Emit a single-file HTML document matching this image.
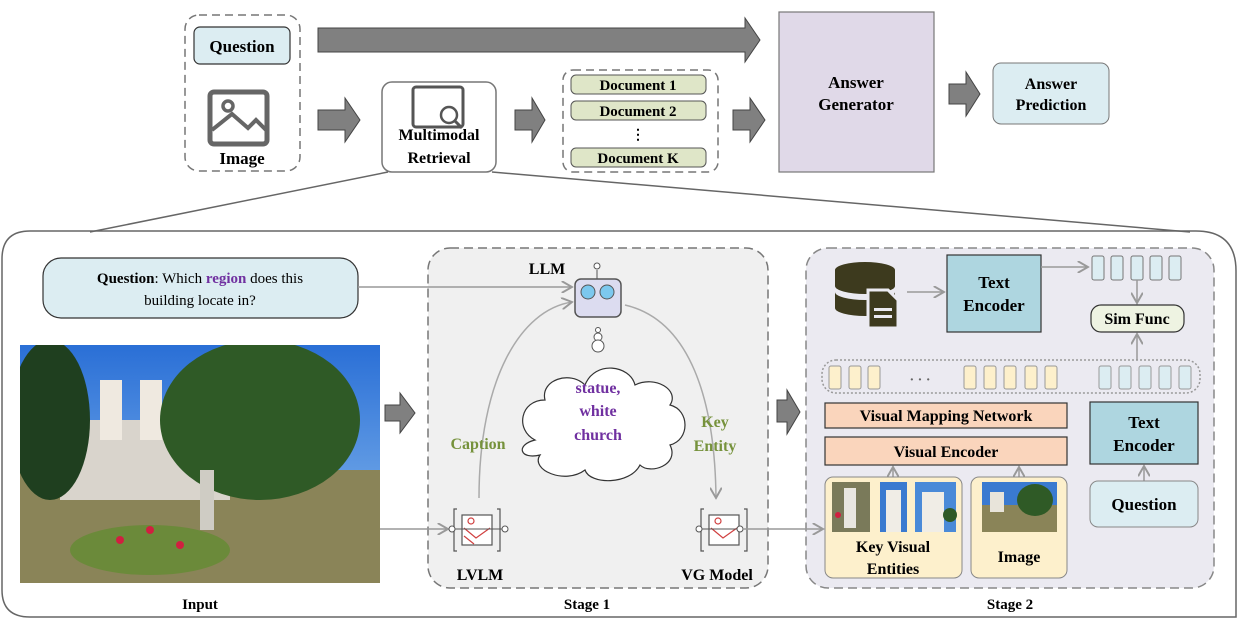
<!DOCTYPE html>
<html><head><style>
body{margin:0;background:#fff;}
svg{display:block;font-family:"Liberation Serif",serif;font-weight:bold;}
</style></head><body>
<svg width="1239" height="622" viewBox="0 0 1239 622" xmlns="http://www.w3.org/2000/svg">
<defs>
<marker id="ah" markerWidth="8" markerHeight="8" refX="7" refY="4" orient="auto"><path d="M0,0 L7,4 L0,8" fill="none" stroke="#999" stroke-width="1.3"/></marker>
<linearGradient id="sky" x1="0" y1="0" x2="0" y2="1"><stop offset="0" stop-color="#2a6fd6"/><stop offset="1" stop-color="#8fc0f0"/></linearGradient>
<clipPath id="pc"><rect x="20" y="345" width="360" height="238"/></clipPath>
</defs>
<!-- top -->
<rect x="185" y="15" width="115" height="156" rx="14" fill="none" stroke="#777" stroke-width="1.5" stroke-dasharray="8,5"/>
<rect x="194" y="27" width="96" height="37" rx="6" fill="#dcedf2" stroke="#333" stroke-width="1.2"/>
<text x="242" y="52" font-size="17" text-anchor="middle">Question</text>
<rect x="210" y="92" width="57" height="52" rx="4" fill="none" stroke="#666" stroke-width="5"/>
<circle cx="228" cy="106" r="5" fill="none" stroke="#666" stroke-width="3.5"/>
<path d="M212,130 L232,114 L248,128 L256,120 L266,130" fill="none" stroke="#666" stroke-width="4"/>
<text x="242" y="164" font-size="17" text-anchor="middle">Image</text>
<path d="M318,28 H745 V18 L760,40 L745,62 V52 H318 Z" fill="#808080" stroke="#444"/>
<path d="M318,110 H345 V98 L360,120 L345,142 V130 H318 Z" fill="#808080" stroke="#444"/>
<rect x="382" y="82" width="114" height="90" rx="10" fill="#fff" stroke="#777" stroke-width="1.5"/>
<rect x="413" y="87" width="50" height="40" rx="3" fill="none" stroke="#555" stroke-width="3"/>
<circle cx="449" cy="115" r="8" fill="#fff" stroke="#555" stroke-width="2.5"/>
<line x1="455" y1="121" x2="462" y2="128" stroke="#555" stroke-width="3"/>
<text x="439" y="140" font-size="16" text-anchor="middle">Multimodal</text>
<text x="439" y="163" font-size="16" text-anchor="middle">Retrieval</text>
<path d="M515,110 H532 V98 L545,120 L532,142 V130 H515 Z" fill="#808080" stroke="#444"/>
<rect x="563" y="70" width="155" height="102" rx="10" fill="none" stroke="#777" stroke-width="1.5" stroke-dasharray="8,5"/>
<rect x="571" y="75" width="135" height="19" rx="5" fill="#dfe6c8" stroke="#555"/><text x="638" y="90" font-size="15" text-anchor="middle">Document 1</text>
<rect x="571" y="101" width="135" height="19" rx="5" fill="#dfe6c8" stroke="#555"/><text x="638" y="116" font-size="15" text-anchor="middle">Document 2</text>
<text x="638" y="139" font-size="14" text-anchor="middle">⋮</text>
<rect x="571" y="148" width="135" height="19" rx="5" fill="#dfe6c8" stroke="#555"/><text x="638" y="163" font-size="15" text-anchor="middle">Document K</text>
<path d="M733,110 H750 V98 L765,120 L750,142 V130 H733 Z" fill="#808080" stroke="#444"/>
<rect x="779" y="12" width="155" height="160" fill="#e0d9e8" stroke="#777" stroke-width="1.2"/>
<text x="856" y="88" font-size="17" text-anchor="middle">Answer</text>
<text x="856" y="110" font-size="17" text-anchor="middle">Generator</text>
<path d="M949,84 H966 V72 L980,94 L966,116 V104 H949 Z" fill="#808080" stroke="#444"/>
<rect x="993" y="63" width="116" height="61" rx="8" fill="#dcedf2" stroke="#777"/>
<text x="1051" y="89" font-size="16" text-anchor="middle">Answer</text>
<text x="1051" y="110" font-size="16" text-anchor="middle">Prediction</text>
<!-- zoom lines -->
<line x1="388" y1="172" x2="90" y2="232" stroke="#666" stroke-width="1.5"/>
<line x1="492" y1="172" x2="1190" y2="232" stroke="#666" stroke-width="1.5"/>
<path d="M30,231 H1196 Q1236,231 1236,271 V617 H30 Q2,617 2,590 V259 Q2,231 30,231 Z" fill="none" stroke="#666" stroke-width="1.5"/>
<!-- input -->
<rect x="43" y="258" width="315" height="60" rx="18" fill="#dcedf2" stroke="#333" stroke-width="1.2"/>
<text x="200" y="283" font-size="15" text-anchor="middle">Question<tspan font-weight="normal">: Which </tspan><tspan fill="#7030a0">region</tspan><tspan font-weight="normal"> does this</tspan></text>
<text x="200" y="305" font-size="15" text-anchor="middle" font-weight="normal">building locate in?</text>
<g clip-path="url(#pc)">
<rect x="20" y="345" width="360" height="238" fill="url(#sky)"/>
<rect x="20" y="470" width="360" height="113" fill="#8a8458"/>
<rect x="60" y="420" width="170" height="80" fill="#d9d4cc"/>
<rect x="100" y="380" width="22" height="60" fill="#efe9e0"/>
<rect x="140" y="380" width="22" height="60" fill="#efe9e0"/>
<ellipse cx="50" cy="420" rx="40" ry="80" fill="#1f3f1f"/>
<ellipse cx="260" cy="420" rx="100" ry="80" fill="#2f5a26"/>
<ellipse cx="150" cy="550" rx="80" ry="25" fill="#6b8a3a"/>
<circle cx="120" cy="540" r="4" fill="#d02040"/><circle cx="150" cy="530" r="4" fill="#d02040"/><circle cx="180" cy="545" r="4" fill="#d02040"/>
<rect x="200" y="470" width="14" height="60" fill="#cfccc4"/>
</g>
<path d="M385,405 H400 V393 L415,413 L400,433 V421 H385 Z" fill="#808080" stroke="#444"/>
<text x="200" y="609" font-size="15" text-anchor="middle">Input</text>
<!-- stage 1 -->
<rect x="428" y="248" width="340" height="340" rx="22" fill="#f0f0f0" stroke="#777" stroke-width="1.5" stroke-dasharray="9,5"/>
<line x1="358" y1="287" x2="572" y2="287" stroke="#999" stroke-width="1.5" marker-end="url(#ah)"/>
<text x="547" y="274" font-size="16" text-anchor="middle">LLM</text>
<line x1="597" y1="270" x2="597" y2="280" stroke="#555"/><circle cx="597" cy="266" r="3" fill="#fff" stroke="#555"/>
<rect x="575" y="279" width="46" height="38" rx="6" fill="#dcdcf0" stroke="#555" stroke-width="1.5"/>
<circle cx="588" cy="292" r="7" fill="#7cc8ee" stroke="#555"/><circle cx="607" cy="292" r="7" fill="#7cc8ee" stroke="#555"/>
<circle cx="598" cy="330" r="2.5" fill="#fff" stroke="#555"/><circle cx="598" cy="337" r="4" fill="#fff" stroke="#555"/><circle cx="598" cy="346" r="6" fill="#fff" stroke="#555"/>
<path d="M479,498 C479,380 520,310 572,302" fill="none" stroke="#aaa" stroke-width="1.5" marker-end="url(#ah)"/>
<path d="M625,305 C690,320 715,400 716,498" fill="none" stroke="#aaa" stroke-width="1.5" marker-end="url(#ah)"/>
<path d="M535,440 C515,430 520,400 545,400 C540,380 570,370 585,385 C595,360 630,365 635,385 C655,375 680,390 670,405 C690,410 690,440 670,445 C680,465 650,475 640,465 C630,485 590,485 585,470 C565,485 530,470 540,455 C520,460 515,445 535,440 Z" fill="#fff" stroke="#333" stroke-width="1.2"/>
<text x="598" y="393" font-size="16" fill="#7030a0" text-anchor="middle">statue,</text>
<text x="598" y="416" font-size="16" fill="#7030a0" text-anchor="middle">white</text>
<text x="598" y="440" font-size="16" fill="#7030a0" text-anchor="middle">church</text>
<text x="478" y="449" font-size="16" fill="#76923c" text-anchor="middle">Caption</text>
<text x="715" y="427" font-size="16" fill="#76923c" text-anchor="middle">Key</text>
<text x="715" y="451" font-size="16" fill="#76923c" text-anchor="middle">Entity</text>
<g stroke="#555" fill="none" stroke-width="1.2">
<rect x="462" y="515" width="30" height="30" fill="#fff"/><path d="M464,528 L476,538 L490,528" stroke="#d04040"/><path d="M464,536 L474,544" stroke="#d04040"/><circle cx="471" cy="521" r="3" stroke="#d04040"/>
<path d="M457,509 h-3 v42 h3 M497,509 h3 v42 h-3"/>
<rect x="709" y="515" width="30" height="30" fill="#fff"/><path d="M711,528 L723,538 L737,528" stroke="#d04040"/><circle cx="718" cy="521" r="3" stroke="#d04040"/>
<path d="M704,509 h-3 v42 h3 M744,509 h3 v42 h-3"/>
</g>
<line x1="380" y1="529" x2="448" y2="529" stroke="#999" stroke-width="1.5" marker-end="url(#ah)"/>
<line x1="452" y1="529" x2="505" y2="529" stroke="#555"/><circle cx="452" cy="529" r="3" fill="#fff" stroke="#555"/><circle cx="505" cy="529" r="3" fill="#fff" stroke="#555"/>
<line x1="699" y1="529" x2="740" y2="529" stroke="#555"/><circle cx="699" cy="529" r="3" fill="#fff" stroke="#555"/><circle cx="740" cy="529" r="3" fill="#fff" stroke="#555"/>
<text x="480" y="580" font-size="16" text-anchor="middle">LVLM</text>
<text x="717" y="580" font-size="16" text-anchor="middle">VG Model</text>
<text x="587" y="609" font-size="15" text-anchor="middle">Stage 1</text>
<path d="M777,400 H787 V390 L800,412 L787,434 V422 H777 Z" fill="#808080" stroke="#444"/>
<!-- stage 2 -->
<rect x="806" y="248" width="408" height="340" rx="22" fill="#ebeaf1" stroke="#888" stroke-width="1.5" stroke-dasharray="9,5"/>
<line x1="743" y1="529" x2="823" y2="529" stroke="#999" stroke-width="1.5" marker-end="url(#ah)"/>
<path d="M835,270 a30,8 0 0 1 60,0 v16 a30,8 0 0 1 -60,0 z M835,292 a30,8 0 0 0 60,0 v16 a30,8 0 0 1 -60,0 z" fill="#3d3a1e"/>
<path d="M868,290 h20 l10,10 v28 h-30 z" fill="#3d3a1e" stroke="#ebeaf1" stroke-width="3"/>
<rect x="874" y="308" width="18" height="3" fill="#ebeaf1"/><rect x="874" y="315" width="18" height="3" fill="#ebeaf1"/>
<line x1="907" y1="292" x2="944" y2="292" stroke="#999" stroke-width="1.5" marker-end="url(#ah)"/>
<rect x="947" y="255" width="94" height="77" fill="#aed6e0" stroke="#333" stroke-width="1.2"/>
<text x="994" y="288" font-size="17" text-anchor="middle">Text</text>
<text x="994" y="311" font-size="17" text-anchor="middle">Encoder</text>
<line x1="1041" y1="267" x2="1088" y2="267" stroke="#999" stroke-width="1.5" marker-end="url(#ah)"/>
<g fill="#dcedf2" stroke="#777">
<rect x="1092" y="256" width="12" height="24" rx="2"/><rect x="1111" y="256" width="12" height="24" rx="2"/><rect x="1131" y="256" width="12" height="24" rx="2"/><rect x="1150" y="256" width="12" height="24" rx="2"/><rect x="1169" y="256" width="12" height="24" rx="2"/>
</g>
<line x1="1137" y1="280" x2="1137" y2="303" stroke="#999" stroke-width="1.5" marker-end="url(#ah)"/>
<rect x="1091" y="305" width="93" height="27" rx="10" fill="#eef3e2" stroke="#333" stroke-width="1.2"/>
<text x="1137" y="324" font-size="16" text-anchor="middle">Sim Func</text>
<line x1="1137" y1="360" x2="1137" y2="334" stroke="#999" stroke-width="1.5" marker-end="url(#ah)"/>
<rect x="822" y="360" width="378" height="33" rx="14" fill="none" stroke="#999" stroke-width="1.5" stroke-dasharray="2,2"/>
<g fill="#fdf0cc" stroke="#999">
<rect x="829" y="366" width="12" height="23" rx="2"/><rect x="849" y="366" width="12" height="23" rx="2"/><rect x="868" y="366" width="12" height="23" rx="2"/>
<rect x="964" y="366" width="12" height="23" rx="2"/><rect x="984" y="366" width="12" height="23" rx="2"/><rect x="1004" y="366" width="12" height="23" rx="2"/><rect x="1025" y="366" width="12" height="23" rx="2"/><rect x="1045" y="366" width="12" height="23" rx="2"/>
</g>
<text x="920" y="384" font-size="14" text-anchor="middle" fill="#666">· · ·</text>
<g fill="#dcedf2" stroke="#999">
<rect x="1099" y="366" width="12" height="23" rx="2"/><rect x="1119" y="366" width="12" height="23" rx="2"/><rect x="1139" y="366" width="12" height="23" rx="2"/><rect x="1159" y="366" width="12" height="23" rx="2"/><rect x="1179" y="366" width="12" height="23" rx="2"/>
</g>
<rect x="825" y="403" width="242" height="25" fill="#fad5bc" stroke="#333" stroke-width="1.2"/>
<text x="946" y="421" font-size="16" text-anchor="middle">Visual Mapping Network</text>
<rect x="825" y="437" width="242" height="28" fill="#fad5bc" stroke="#333" stroke-width="1.2"/>
<text x="946" y="457" font-size="16" text-anchor="middle">Visual Encoder</text>
<rect x="1090" y="402" width="108" height="62" fill="#aed6e0" stroke="#333" stroke-width="1.2"/>
<text x="1144" y="428" font-size="17" text-anchor="middle">Text</text>
<text x="1144" y="451" font-size="17" text-anchor="middle">Encoder</text>
<line x1="893" y1="477" x2="893" y2="467" stroke="#999" stroke-width="1.5" marker-end="url(#ah)"/>
<line x1="1019" y1="477" x2="1019" y2="467" stroke="#999" stroke-width="1.5" marker-end="url(#ah)"/>
<line x1="1144" y1="481" x2="1144" y2="466" stroke="#999" stroke-width="1.5" marker-end="url(#ah)"/>
<rect x="825" y="477" width="137" height="101" rx="8" fill="#fdf0cc" stroke="#888"/>
<rect x="832" y="482" width="38" height="50" fill="#7a7a5a"/><rect x="844" y="488" width="12" height="40" fill="#e8e6e0"/><circle cx="838" cy="515" r="3" fill="#d02040"/>
<rect x="880" y="482" width="27" height="50" fill="#3a7ad0"/><rect x="886" y="490" width="15" height="42" fill="#f0ede6"/>
<rect x="915" y="482" width="41" height="50" fill="#4a8ad8"/><rect x="922" y="492" width="22" height="40" fill="#f0ede6"/><circle cx="950" cy="515" r="7" fill="#2f5a26"/>
<text x="893" y="552" font-size="16" text-anchor="middle">Key Visual</text>
<text x="893" y="574" font-size="16" text-anchor="middle">Entities</text>
<rect x="971" y="477" width="96" height="101" rx="8" fill="#fdf0cc" stroke="#888"/>
<rect x="982" y="482" width="75" height="50" fill="#3a7ad0"/><rect x="982" y="505" width="75" height="27" fill="#8a8458"/><ellipse cx="1035" cy="500" rx="18" ry="16" fill="#2f5a26"/><rect x="990" y="492" width="14" height="20" fill="#e8e4da"/>
<text x="1019" y="562" font-size="16" text-anchor="middle">Image</text>
<rect x="1090" y="481" width="108" height="46" rx="8" fill="#dcedf2" stroke="#888"/>
<text x="1144" y="510" font-size="17" text-anchor="middle">Question</text>
<text x="1010" y="609" font-size="15" text-anchor="middle">Stage 2</text>
</svg>
</body></html>
